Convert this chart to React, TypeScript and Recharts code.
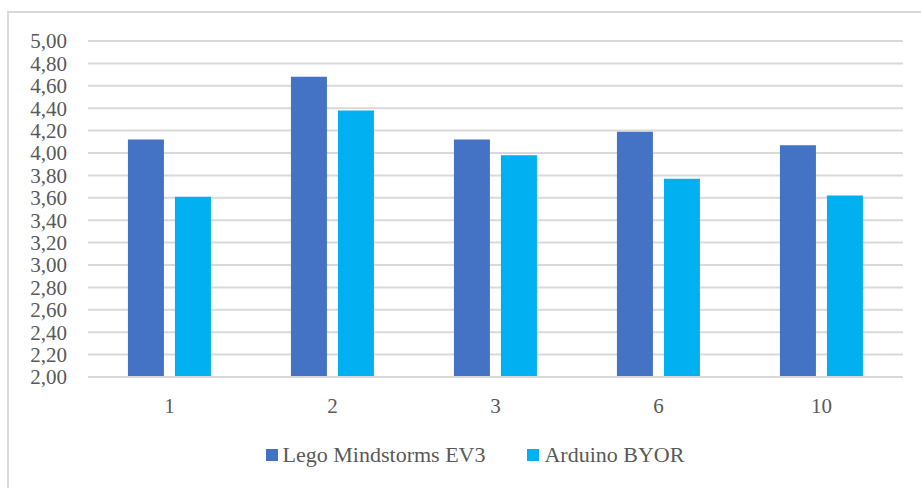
import { BarChart, Bar, XAxis, YAxis, CartesianGrid, Legend } from 'recharts';

const categories = ['1', '2', '3', '6', '10'];
const legoValues = [4.12, 4.68, 4.12, 4.19, 4.07];
const arduinoValues = [3.61, 4.38, 3.98, 3.77, 3.62];
const seriesNames = ['Lego Mindstorms EV3', 'Arduino BYOR'];
const yTicks = [2, 2.2, 2.4, 2.6, 2.8, 3, 3.2, 3.4, 3.6, 3.8, 4, 4.2, 4.4, 4.6, 4.8, 5];

const data = categories.map((c, i) => ({
  name: c,
  lego: legoValues[i],
  arduino: arduinoValues[i],
}));

const font = 'Liberation Serif';
const textColor = '#595959';
const gridColor = '#d9d9d9';

const fmt = (v: number) => v.toFixed(2).replace('.', ',');

const renderLegend = (props: any) => {
  const items = [...(props.payload || [])].sort(
    (a: any, b: any) => seriesNames.indexOf(a.value) - seriesNames.indexOf(b.value)
  );
  return (
    <div
      style={{
        height: 30,
        display: 'flex',
        justifyContent: 'center',
        alignItems: 'center',
        paddingLeft: 29,
        fontFamily: font,
        fontSize: 22,
        color: textColor,
      }}
    >
      {items.map((item: any, i: number) => (
        <div
          key={item.value}
          style={{ display: 'flex', alignItems: 'center', marginLeft: i > 0 ? 42 : 0 }}
        >
          <span style={{ width: 12, height: 12, background: item.color, marginRight: 5 }} />
          <span>{item.value}</span>
        </div>
      ))}
    </div>
  );
};

export default function App() {
  return (
    <div style={{ position: 'relative', width: 921, height: 488, overflow: 'hidden', background: '#fff' }}>
      <style>{'body{margin:0}'}</style>
      <div
        style={{
          position: 'absolute',
          left: 7,
          top: 11,
          width: 960,
          height: 520,
          border: `2px solid ${gridColor}`,
        }}
      />
      <div style={{ position: 'absolute', left: 0, top: 0 }}>
        <BarChart
          width={921}
          height={488}
          data={data}
          margin={{ top: 41, right: 18, left: 0, bottom: 51 }}
          barCategoryGap="24.5%"
          barGap={11}
        >
          <CartesianGrid vertical={false} stroke={gridColor} strokeWidth={2} />
          <XAxis
            dataKey="name"
            height={30}
            axisLine={{ stroke: gridColor, strokeWidth: 2 }}
            tickLine={false}
            tickSize={0}
            tickMargin={21}
            tick={{ fill: textColor, fontSize: 21, fontFamily: font }}
          />
          <YAxis
            width={88}
            domain={[2, 5]}
            ticks={yTicks}
            interval={0}
            axisLine={false}
            tickLine={false}
            tickSize={0}
            tickMargin={21}
            tickFormatter={fmt}
            tick={{ fill: textColor, fontSize: 21, fontFamily: font }}
          />
          <Legend
            content={renderLegend}
            wrapperStyle={{ top: 440, bottom: 'auto', left: 0, width: 921 }}
          />
          <Bar dataKey="lego" name={seriesNames[0]} fill="#4472C4" isAnimationActive={false} />
          <Bar dataKey="arduino" name={seriesNames[1]} fill="#00B0F0" isAnimationActive={false} />
        </BarChart>
      </div>
    </div>
  );
}
